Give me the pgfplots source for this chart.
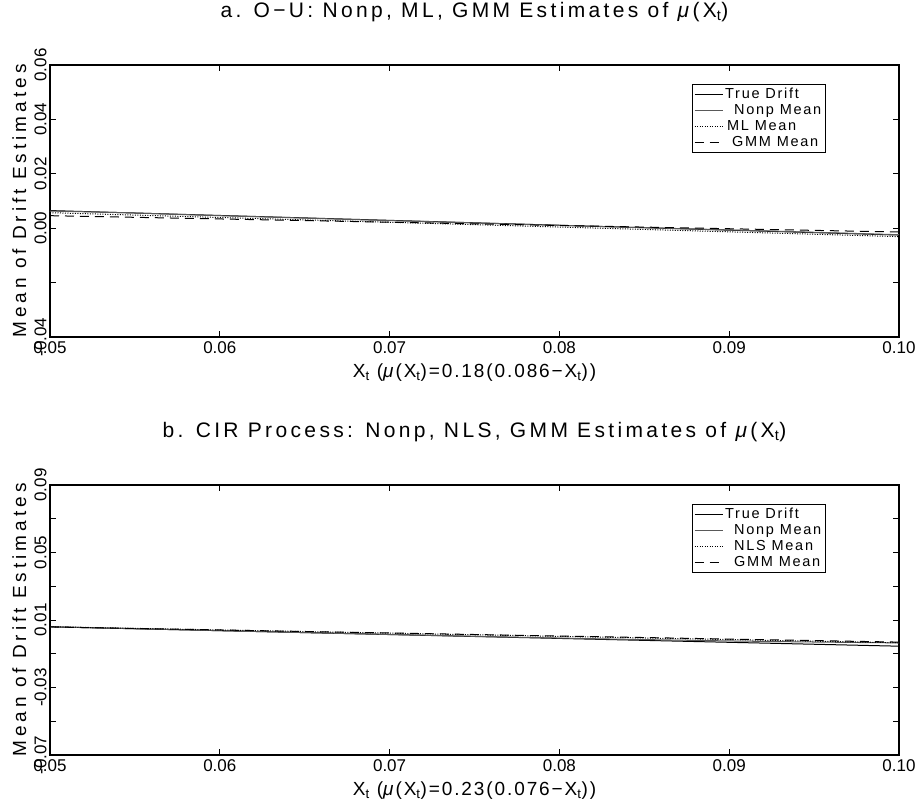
\documentclass[border=0pt]{standalone}
\usepackage{fontspec}
\setmainfont{Liberation Sans}
\newfontfamily\ttlfont[LetterSpace=16]{Liberation Sans}
\newfontfamily\xlabfont[LetterSpace=10]{Liberation Sans}
\newfontfamily\ylabfont[LetterSpace=21]{Liberation Sans}
\newfontfamily\legfont[LetterSpace=12]{Liberation Sans}
\usepackage{pgfplots}
\pgfplotsset{compat=1.18}

\pgfplotsset{
  panel/.style={
    scale only axis, width=849pt, height=272pt,
    xmin=0.05, xmax=0.10,
    scaled x ticks=false, scaled y ticks=false,
    axis line style={line width=1.6pt},
    tick align=inside, major tick length=6pt,
    tick style={black, line width=0.8pt},
    xtick={0.05,0.06,0.07,0.08,0.09,0.10},
    xticklabels={0.05,0.06,0.07,0.08,0.09,0.10},
    /pgf/number format/assume math mode=true,
    ticklabel style={font=\fontsize{17}{19}\selectfont},
    xticklabel style={yshift=-1pt},
    yticklabel style={rotate=90, anchor=south},
    title style={at={(axis description cs:0.5,1)}, anchor=center, yshift=47pt,
      font=\ttlfont\fontsize{21}{24}\selectfont},
    xlabel style={at={(axis description cs:0.5,0)}, anchor=center, yshift=-36pt,
      font=\xlabfont\fontsize{19}{22}\selectfont},
    ylabel style={at={(axis description cs:-0.036,0.5)}, anchor=center,
      font=\ylabfont\fontsize{19}{22}\selectfont},
    legend style={at={(0.756,0.93)}, anchor=north west, draw=black, line width=0.6pt,
      font=\legfont\fontsize{14.5}{16}\selectfont, inner sep=2pt, row sep=0.5pt,
      cells={anchor=west}},
    legend cell align=left,
    legend image code/.code={\draw[##1] (2pt,0pt) -- (30pt,0pt);},
    every axis plot/.append style={black, line width=1.0pt},
  },
  truest/.style={solid},
  nonpst/.style={solid, black!65},
  mlst/.style={dash pattern=on 1pt off 1.5pt},
  gmmst/.style={dash pattern=on 9pt off 6pt},
}

\begin{document}
\begin{tikzpicture}
\path[use as bounding box] (0,0) rectangle (918pt,809pt);

% ---------------- Panel a ----------------
\begin{axis}[panel, at={(50pt,472pt)},
  ymin=-0.04, ymax=0.06,
  ytick={-0.04,-0.02,0,0.02,0.04,0.06},
  yticklabels={-0.04,,0.00,0.02,0.04,0.06},
  title={a. O−U: Nonp, ML, GMM Estimates of \textit{μ}(X\textsubscript{t})},
  xlabel={X\textsubscript{t} (\textit{μ}(X\textsubscript{t})=0.18(0.086−X\textsubscript{t}))},
  ylabel={Mean of Drift Estimates},
]
\addplot[truest] coordinates {(0.05,0.00648) (0.10,-0.00252)};
\addlegendentry{True Drift}
\addplot[nonpst] coordinates {
(0.0500,0.00630) (0.0525,0.00598) (0.0550,0.00560) (0.0575,0.00508) (0.0600,0.00460)
(0.0625,0.00418) (0.0650,0.00372) (0.0675,0.00325) (0.0700,0.00280) (0.0725,0.00238)
(0.0750,0.00195) (0.0775,0.00150) (0.0800,0.00105) (0.0825,0.00060) (0.0850,0.00020)
(0.0875,-0.00022) (0.0900,-0.00065) (0.0925,-0.00105) (0.0950,-0.00150) (0.0975,-0.00195)
(0.1000,-0.00240)};
\addlegendentry{\hspace{9pt}Nonp Mean}
\addplot[mlst] coordinates {
(0.0500,0.00570) (0.0550,0.00482) (0.0600,0.00394) (0.0650,0.00306) (0.0700,0.00218)
(0.0750,0.00130) (0.0800,0.00042) (0.0850,-0.00046) (0.0900,-0.00134) (0.0950,-0.00222)
(0.1000,-0.00310)};
\addlegendentry{\hspace{2pt}ML Mean}
\addplot[gmmst] coordinates {
(0.0500,0.00460) (0.0550,0.00400) (0.0600,0.00340) (0.0650,0.00280) (0.0700,0.00220)
(0.0750,0.00160) (0.0800,0.00100) (0.0850,0.00040) (0.0900,-0.00020) (0.0950,-0.00080)
(0.1000,-0.00140)};
\addlegendentry{\hspace{7pt}GMM Mean}
\end{axis}

% ---------------- Panel b ----------------
\begin{axis}[panel, at={(50pt,54pt)}, height=270pt,
  ymin=-0.07, ymax=0.09,
  ytick={-0.07,-0.05,-0.03,-0.01,0.01,0.03,0.05,0.07,0.09},
  yticklabels={-0.07,,-0.03,,0.01,,0.05,,0.09},
  title={b. CIR Process: Nonp, NLS, GMM Estimates of \textit{μ}(X\textsubscript{t})},
  xlabel={X\textsubscript{t} (\textit{μ}(X\textsubscript{t})=0.23(0.076−X\textsubscript{t}))},
  ylabel={Mean of Drift Estimates},
]
\addplot[truest] coordinates {(0.05,0.00598) (0.10,-0.00552)};
\addlegendentry{True Drift}
\addplot[nonpst] coordinates {
(0.0500,0.00595) (0.0525,0.00538) (0.0550,0.00480) (0.0575,0.00424) (0.0600,0.00366)
(0.0625,0.00310) (0.0650,0.00253) (0.0675,0.00198) (0.0700,0.00142) (0.0725,0.00088)
(0.0750,0.00032) (0.0775,-0.00020) (0.0800,-0.00070) (0.0825,-0.00118) (0.0850,-0.00160)
(0.0875,-0.00200) (0.0900,-0.00240) (0.0925,-0.00275) (0.0950,-0.00305) (0.0975,-0.00332)
(0.1000,-0.00355)};
\addlegendentry{\hspace{9pt}Nonp Mean}
\addplot[mlst] coordinates {
(0.0500,0.00600) (0.0550,0.00505) (0.0600,0.00410) (0.0650,0.00315) (0.0700,0.00220)
(0.0750,0.00125) (0.0800,0.00030) (0.0850,-0.00065) (0.0900,-0.00160) (0.0950,-0.00255)
(0.1000,-0.00350)};
\addlegendentry{\hspace{9pt}NLS Mean}
\addplot[gmmst] coordinates {
(0.0500,0.00590) (0.0550,0.00500) (0.0600,0.00410) (0.0650,0.00320) (0.0700,0.00230)
(0.0750,0.00140) (0.0800,0.00050) (0.0850,-0.00040) (0.0900,-0.00130) (0.0950,-0.00220)
(0.1000,-0.00310)};
\addlegendentry{\hspace{9pt}GMM Mean}
\end{axis}
\end{tikzpicture}
\end{document}
